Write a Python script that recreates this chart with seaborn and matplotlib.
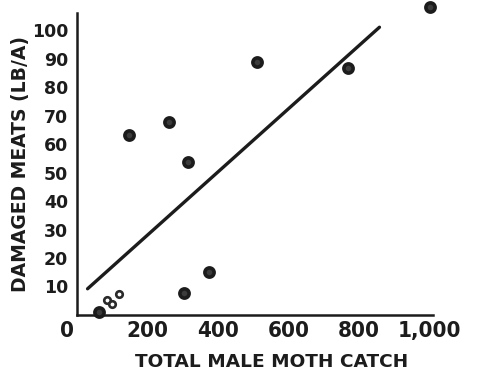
import matplotlib
matplotlib.use("Agg")
import matplotlib.pyplot as plt
from matplotlib import font_manager
from matplotlib.font_manager import FontProperties
import seaborn as sns
import pandas as pd

# Male moth trap catch vs. damaged nut meats
catch_solid = [62, 147, 261, 315, 304, 374, 510, 770, 1000]
damage_solid = [1.0, 63.2, 67.8, 53.6, 7.8, 15.2, 88.9, 86.8, 108.0]
catch_open = [85, 99, 120]
damage_open = [5.3, 3.9, 7.4]

# Fitted regression line endpoints
fit_catch = [31, 858]
fit_damage = [9.2, 101.0]

x_ticks = [100, 200, 300, 400, 500, 600, 700, 800, 900, 1000]
x_tick_labels = ["", "200", "", "400", "", "600", "", "800", "", "1,000"]
y_ticks = [10, 20, 30, 40, 50, 60, 70, 80, 90, 100]
y_tick_labels = ["10", "20", "30", "40", "50", "60", "70", "80", "90", "100"]

sns.set_theme(style="white")
ink = "#1c1c1c"
plt.rcParams["font.family"] = ["DejaVu Sans"]


def pick_narrow_font():
    """Return (text keyword args, size) for a condensed bold face."""
    cond = FontProperties(family="DejaVu Sans", weight="bold", stretch="condensed")
    path = font_manager.findfont(cond, fallback_to_default=True)
    if "Condensed" in path:
        return {"fontfamily": "DejaVu Sans", "fontstretch": "condensed"}, 16
    names = {f.name for f in font_manager.fontManager.ttflist}
    if "Liberation Sans Narrow" in names:
        return {"fontfamily": "Liberation Sans Narrow"}, 17
    return {"fontfamily": "Liberation Sans"}, 14


narrow_kw, narrow_size = pick_narrow_font()

fig = plt.figure(figsize=(4.85, 3.71), dpi=100)
ax = fig.add_axes([0.158, 0.151, 0.735, 0.814])

solid = pd.DataFrame({"catch": catch_solid, "damage": damage_solid})
hollow = pd.DataFrame({"catch": catch_open, "damage": damage_open})
fit = pd.DataFrame({"catch": fit_catch, "damage": fit_damage})

sns.lineplot(data=fit, x="catch", y="damage", ax=ax, color=ink, linewidth=2.4,
             solid_capstyle="round")
sns.scatterplot(data=solid, x="catch", y="damage", ax=ax, s=44, color="#3c3c3c",
                edgecolor="#1c1c1c", linewidth=2.6, zorder=3, clip_on=False)
sns.scatterplot(data=hollow, x="catch", y="damage", ax=ax, s=22, color="white",
                edgecolor="#2a2a2a", linewidth=1.9, zorder=3, clip_on=False)

ax.set_xlim(0, 1010)
ax.set_ylim(0, 106)

for side in ("top", "right"):
    ax.spines[side].set_visible(False)
for side in ("left", "bottom"):
    ax.spines[side].set_color(ink)
    ax.spines[side].set_linewidth(1.8)

ax.set_xticks(x_ticks)
ax.set_xticklabels(x_tick_labels, fontweight="bold", fontsize=narrow_size,
                   color=ink, **narrow_kw)
ax.set_yticks(y_ticks)
ax.set_yticklabels(y_tick_labels, fontweight="bold", fontsize=12.5, color=ink)
ax.tick_params(axis="both", direction="in", length=5, width=1.6, color=ink)
ax.tick_params(axis="x", pad=4)
ax.tick_params(axis="y", pad=6)

# Shared origin label below-left of the axes corner
ax.annotate("0", xy=(0, 0), xycoords="data", xytext=(-7, -4),
            textcoords="offset points", ha="center", va="top",
            fontweight="bold", fontsize=narrow_size, color=ink,
            annotation_clip=False, **narrow_kw)

ax.set_xlabel("TOTAL MALE MOTH CATCH", fontweight="bold", fontsize=13.3,
              color=ink)
ax.xaxis.set_label_coords(0.546, -0.125)
ax.set_ylabel("DAMAGED MEATS (LB/A)", fontweight="bold", fontsize=13.5,
              color=ink)
ax.yaxis.set_label_coords(-0.13, 0.5)

fig.savefig("out.png", dpi=100, facecolor="white")
